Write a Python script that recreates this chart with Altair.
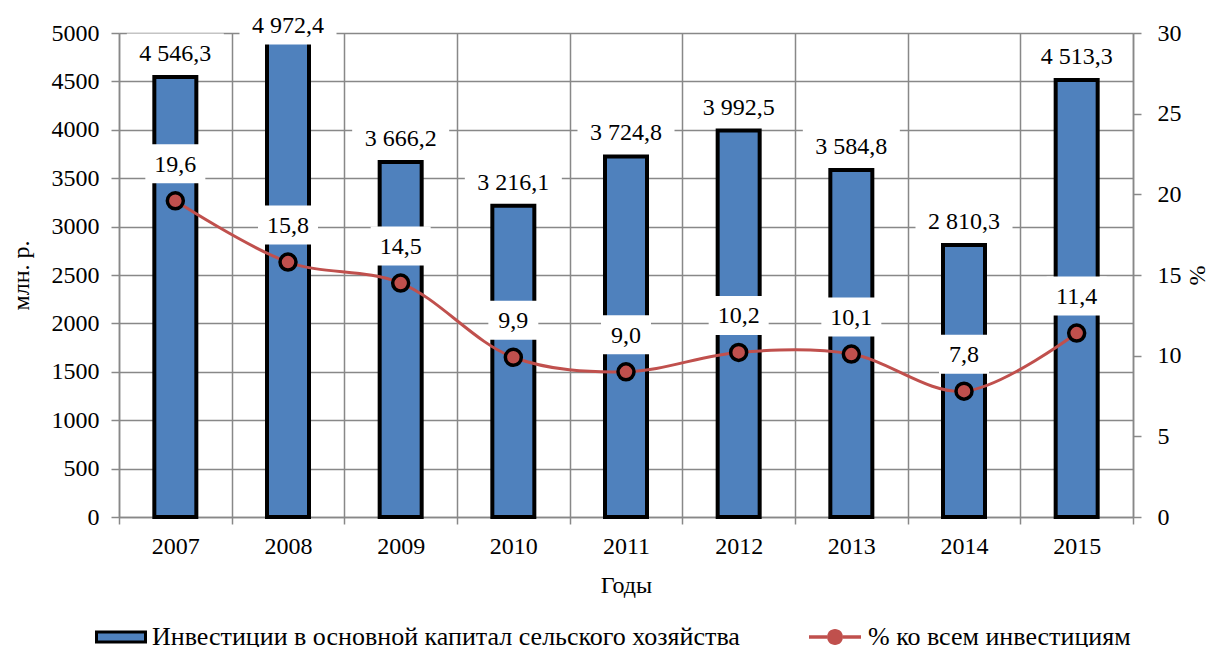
import altair as alt
import pandas as pd

years = ["2007", "2008", "2009", "2010", "2011", "2012", "2013", "2014", "2015"]
invest = [4546.3, 4972.4, 3666.2, 3216.1, 3724.8, 3992.5, 3584.8, 2810.3, 4513.3]
invest_labels = ["4 546,3", "4 972,4", "3 666,2", "3 216,1", "3 724,8",
                 "3 992,5", "3 584,8", "2 810,3", "4 513,3"]
share = [19.6, 15.8, 14.5, 9.9, 9.0, 10.2, 10.1, 7.8, 11.4]
share_labels = ["19,6", "15,8", "14,5", "9,9", "9,0", "10,2", "10,1", "7,8", "11,4"]
bar_name = "Инвестиции в основной капитал сельского хозяйства"
line_name = "% ко всем инвестициям"

BLUE = "#4F81BD"
RED = "#C0504D"
GRID = "#888888"
FONT = "Liberation Serif"
FS = 24
LFS = 26

df = pd.DataFrame({
    "year": years,
    "invest": invest,
    "invest_label": invest_labels,
    "share": share,
    "share_label": share_labels,
    "bar_series": [bar_name] * len(years),
    "line_series": [line_name] * len(years),
    # marker legend overlays the line legend; distinct value keeps it separate
    "pt_series": [line_name + " "] * len(years),
})
df["nchar"] = df["share_label"].str.len()


def rect_path(hw, hh):
    return f"M{-hw},{-hh}H{hw}V{hh}H{-hw}Z"


def circle_path(r):
    return f"M{r},0A{r},{r} 0 1,1 {-r},0A{r},{r} 0 1,1 {r},0Z"


x_enc = alt.X(
    "year:N", sort=years, title="Годы",
    scale=alt.Scale(paddingInner=0, paddingOuter=0),
    axis=alt.Axis(labelAngle=0, tickBand="extent", grid=True, tickSize=7,
                  labelPadding=10, titlePadding=15),
)

y_left_scale = alt.Scale(domain=[0, 5000], nice=False)
y_left_axis = alt.Axis(values=list(range(0, 5001, 500)), format="d", grid=True,
                       tickSize=8, labelPadding=12, titlePadding=18)
y_right_scale = alt.Scale(domain=[0, 30], nice=False)
y_right_axis = alt.Axis(values=list(range(0, 31, 5)), format="d", grid=False,
                        orient="right", tickSize=8, labelPadding=16,
                        titlePadding=3)

base = alt.Chart(df)

bars = base.mark_bar(stroke="black", strokeWidth=4, size=42).encode(
    x=x_enc,
    y=alt.Y("invest:Q", scale=y_left_scale, axis=y_left_axis, title="млн. р."),
    fill=alt.Fill(
        "bar_series:N",
        scale=alt.Scale(domain=[bar_name], range=[BLUE]),
        legend=alt.Legend(title=None, orient="none", legendX=-24, legendY=578,
                          symbolType=rect_path(1, 0.204), symbolSize=2401,
                          symbolStrokeColor="black", symbolStrokeWidth=3,
                          labelFontSize=LFS, labelFont=FONT, labelLimit=1000,
                          labelOffset=5, padding=0),
    ),
)

bar_lab_pos = "min(datum.invest + 248, 5083)"

bar_boxes = base.transform_calculate(label_y=bar_lab_pos).mark_point(
    shape=rect_path(1, 0.402), size=97 * 97, filled=True, fill="white",
    opacity=1, strokeWidth=0,
).encode(
    x=x_enc,
    y=alt.Y("label_y:Q", scale=y_left_scale, title="млн. р."),
)

bar_text = base.transform_calculate(label_y=bar_lab_pos).mark_text(
    font=FONT, fontSize=FS, baseline="middle", color="black", dy=1,
).encode(
    x=x_enc,
    y=alt.Y("label_y:Q", scale=y_left_scale, title="млн. р."),
    text="invest_label:N",
)

bar_group = alt.layer(bars, bar_boxes, bar_text)

line = base.mark_line(strokeWidth=3, interpolate="catmull-rom").encode(
    x=x_enc,
    y=alt.Y("share:Q", scale=y_right_scale, axis=y_right_axis, title="%"),
    stroke=alt.Stroke(
        "line_series:N",
        scale=alt.Scale(domain=[line_name], range=[RED]),
        legend=alt.Legend(title=None, orient="none", legendX=688, legendY=576,
                          symbolType="M-1,0H-0.3M0.3,0H1", symbolSize=2704,
                          symbolStrokeWidth=3.5, labelFontSize=LFS, labelFont=FONT,
                          labelLimit=1000, labelOffset=5, padding=0),
    ),
)

points = base.mark_point(filled=True, fill=RED, stroke="black", strokeWidth=3.5,
                         opacity=1, size=2704).encode(
    x=x_enc,
    y=alt.Y("share:Q", scale=y_right_scale, title="%"),
    shape=alt.Shape(
        "pt_series:N",
        scale=alt.Scale(domain=[line_name + " "], range=[circle_path(0.3077)]),
        legend=alt.Legend(title=None, orient="none", legendX=688, legendY=576,
                          symbolSize=2704, symbolFillColor=RED,
                          symbolStrokeColor="black", symbolStrokeWidth=3.5,
                          symbolOpacity=1,
                          labelFontSize=LFS, labelFont=FONT, labelLimit=1000,
                          labelOffset=5, labelOpacity=0, padding=0),
    ),
)

box4 = base.transform_filter("datum.nchar >= 4").mark_point(
    shape=rect_path(1, 0.65), size=3600, filled=True, fill="white",
    opacity=1, strokeWidth=0, yOffset=-37,
).encode(x=x_enc, y=alt.Y("share:Q", scale=y_right_scale, title="%"))

box3 = base.transform_filter("datum.nchar < 4").mark_point(
    shape=rect_path(0.833, 0.65), size=3600, filled=True, fill="white",
    opacity=1, strokeWidth=0, yOffset=-37,
).encode(x=x_enc, y=alt.Y("share:Q", scale=y_right_scale, title="%"))

line_text = base.mark_text(
    font=FONT, fontSize=FS, baseline="middle", color="black", dy=-36,
).encode(
    x=x_enc,
    y=alt.Y("share:Q", scale=y_right_scale, title="%"),
    text="share_label:N",
)

line_group = alt.layer(line, points, box4, box3, line_text)

chart = alt.layer(bar_group, line_group).resolve_scale(
    y="independent"
).properties(
    width=1014, height=484,
    autosize=alt.AutoSizeParams(type="none"),
    padding={"left": 111, "top": 25, "right": 75, "bottom": 130},
).configure(
    font=FONT,
).configure_view(
    stroke=None,
).configure_axis(
    labelFont=FONT, titleFont=FONT, labelFontSize=FS, titleFontSize=FS,
    titleFontWeight="normal", labelColor="black", titleColor="black",
    domainColor=GRID, tickColor=GRID, gridColor=GRID,
    domainWidth=1.5, tickWidth=1.5, gridWidth=1.5, gridOpacity=1,
)

chart.save("out.html", embed_options={"renderer": "svg", "actions": False})
